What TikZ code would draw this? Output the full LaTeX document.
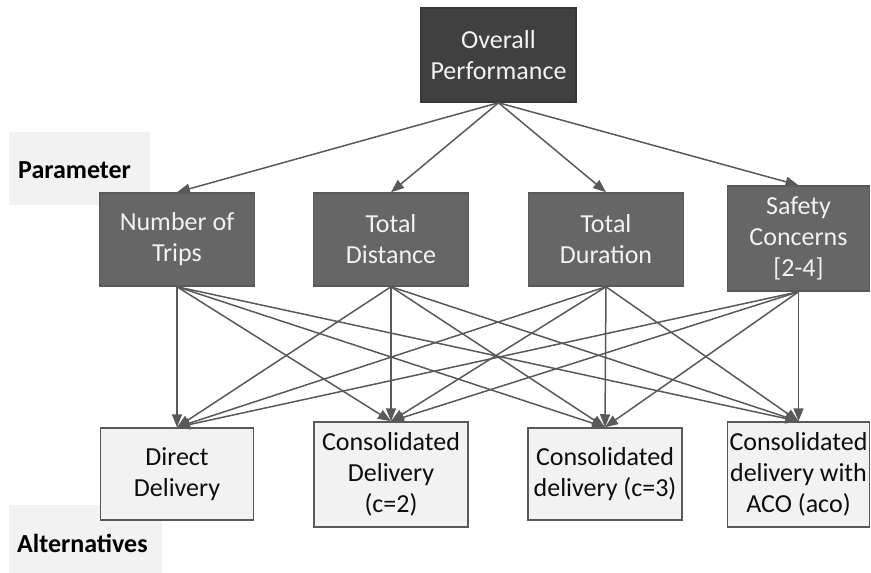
\documentclass[tikz,border=0pt]{standalone}
\usepackage{fontspec}
\setmainfont{Carlito}
\usetikzlibrary{arrows.meta}
\definecolor{topfill}{HTML}{404040}
\definecolor{parfill}{HTML}{666666}
\definecolor{altfill}{HTML}{F2F2F2}
\definecolor{edgegrey}{HTML}{595959}
\begin{document}
\begin{tikzpicture}[x=1pt,y=-1pt,
    box/.style={rectangle, draw=edgegrey, line width=1.5pt, inner sep=0pt, align=center,
      font=\fontsize{26}{31}\selectfont},
    topbox/.style={box, draw=topfill!85!black, fill=topfill, text=altfill},
    parbox/.style={box, fill=parfill, text=altfill, minimum width=155, minimum height=93},
    altbox/.style={box, fill=altfill, text=black!95},
    levellabel/.style={fill=altfill, inner sep=0pt, font=\fontsize{26}{31}\selectfont\bfseries},
    link/.style={draw=edgegrey, line width=1.5pt, -{Triangle[length=13pt,width=10pt]}}]
    \useasboundingbox (0,0) rectangle (871,573);
    \node [levellabel, minimum width=141, minimum height=73] (parlab) at (79.5,168.5) {};
    \node [levellabel, anchor=west] at (18,170) {Parameter};
    \node [levellabel, minimum width=153, minimum height=68] (altlab) at (85.5,539) {};
    \node [levellabel, anchor=west] at (17,543) {Alternatives};
    \node [topbox, minimum width=155, minimum height=94] (overall) at (498.5,55) {Overall\\Performance};
    \node [parbox] (trips) at (177,239.5) {Number of\\Trips};
    \node [parbox] (dist) at (391,239.5) {Total\\Distance};
    \node [parbox] (dur) at (606,239.5) {Total\\Duration};
    \node [parbox, minimum width=142, minimum height=105] (safety) at (798.5,238.5) {Safety\\Concerns\\{[2-4]}};
    \node [altbox, minimum width=153, minimum height=92] (direct) at (177,474) {Direct\\Delivery};
    \node [altbox, minimum width=154, minimum height=105] (cons2) at (391,474.5) {Consolidated\\Delivery\\(c=2)};
    \node [altbox, minimum width=154, minimum height=92] (cons3) at (605,474) {Consolidated\\delivery (c=3)};
    \node [altbox, minimum width=142, minimum height=105] (aco) at (798.5,474.5) {Consolidated\\delivery with\\ACO (aco)};
    \foreach \p in {trips,dist,dur,safety}
      \draw [link] (overall.south) -- (\p.north);
    \foreach \p in {trips,dist,dur,safety}
      \foreach \a in {direct,cons2,cons3,aco}
        \draw [link] (\p.south) -- (\a.north);
\end{tikzpicture}
\end{document}
